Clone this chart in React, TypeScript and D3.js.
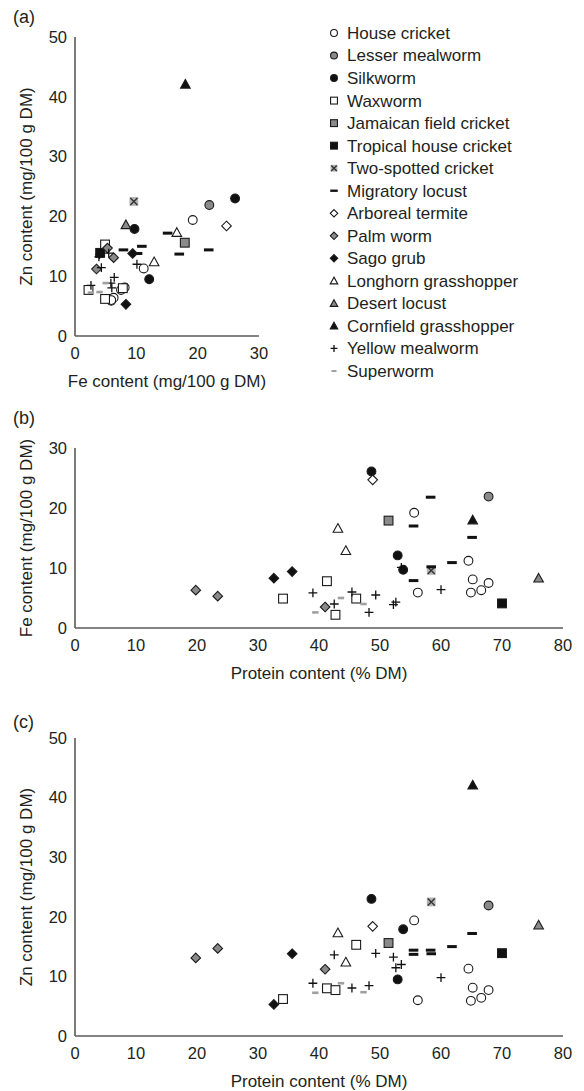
import * as d3 from 'd3'

// each row: [protein % DM, Fe mg/100g DM, Zn mg/100g DM]
const houseCricket = [[55.6, 19.2, 19.4], [64.5, 11.2, 11.3], [65.2, 8.1, 8.1], [67.8, 7.5, 7.7], [66.6, 6.3, 6.4], [64.9, 5.9, 5.9], [56.2, 5.9, 6.0]]
const lesserMealworm = [[67.8, 21.9, 21.9]]
const silkworm = [[48.6, 26.1, 23.0], [52.9, 12.1, 9.5], [53.8, 9.7, 17.9]]
const waxworm = [[34.1, 4.9, 6.2], [46.1, 4.9, 15.3], [41.3, 7.8, 8.0], [42.7, 2.2, 7.7]]
const jamaicanCricket = [[51.4, 17.9, 15.6]]
const tropicalCricket = [[70.0, 4.1, 13.9]]
const twoSpottedCricket = [[58.4, 9.6, 22.5]]
const migratoryLocust = [[65.1, 15.1, 17.2], [58.3, 21.8, 14.4], [55.5, 17.0, 13.7], [61.8, 10.9, 15.0], [55.5, 7.9, 14.4], [58.4, 10.2, 13.8]]
const arborealTermite = [[48.8, 24.7, 18.4]]
const palmWorm = [[19.8, 6.3, 13.1], [23.4, 5.3, 14.7], [41.0, 3.5, 11.2]]
const sagoGrub = [[35.6, 9.4, 13.8], [32.6, 8.3, 5.3]]
const longhornGrasshopper = [[43.1, 16.6, 17.3], [44.4, 12.9, 12.4]]
const desertLocust = [[76.0, 8.3, 18.6]]
const cornfieldGrasshopper = [[65.2, 18.0, 42.1]]
const yellowMealworm = [[39.0, 5.85, 8.85], [42.5, 4.0, 13.6], [45.4, 6.0, 8.05], [48.2, 2.6, 8.45], [49.3, 5.5, 13.85], [52.2, 3.9, 13.25], [52.6, 4.3, 11.45], [53.5, 10.1, 12.0], [60.0, 6.4, 9.8]]
const superworm = [[39.4, 2.6, 7.25], [43.6, 5.0, 8.85], [47.3, 4.0, 7.35]]

const GRAY = '#8a8a8a'

const species = [
  { name: 'House cricket', shape: 'circle', fill: '#fff', data: houseCricket },
  { name: 'Lesser mealworm', shape: 'circle', fill: GRAY, data: lesserMealworm },
  { name: 'Silkworm', shape: 'circle', fill: '#111', data: silkworm },
  { name: 'Waxworm', shape: 'square', fill: '#fff', data: waxworm },
  { name: 'Jamaican field cricket', shape: 'square', fill: GRAY, data: jamaicanCricket },
  { name: 'Tropical house cricket', shape: 'square', fill: '#111', data: tropicalCricket },
  { name: 'Two-spotted cricket', shape: 'xsquare', fill: '#b4b4b4', data: twoSpottedCricket },
  { name: 'Migratory locust', shape: 'dash', fill: '#111', data: migratoryLocust },
  { name: 'Arboreal termite', shape: 'diamond', fill: '#fff', data: arborealTermite },
  { name: 'Palm worm', shape: 'diamond', fill: GRAY, data: palmWorm },
  { name: 'Sago grub', shape: 'diamond', fill: '#111', data: sagoGrub },
  { name: 'Longhorn grasshopper', shape: 'triangle', fill: '#fff', data: longhornGrasshopper },
  { name: 'Desert locust', shape: 'triangle', fill: GRAY, data: desertLocust },
  { name: 'Cornfield grasshopper', shape: 'triangle', fill: '#111', data: cornfieldGrasshopper },
  { name: 'Yellow mealworm', shape: 'plus', fill: '#111', data: yellowMealworm },
  { name: 'Superworm', shape: 'dash', fill: '#a0a0a0', data: superworm },
]

const FONT = '"Liberation Sans", Arial, Helvetica, sans-serif'
const TEXT = '#231f20'
const AXIS = '#5a5a5a'

function Marker({ shape, fill, x, y, s = 1 }: { shape: string; fill: string; x: number; y: number; s?: number }) {
  const st = '#1a1a1a'
  if (shape === 'circle') return <circle cx={x} cy={y} r={4.4 * s} fill={fill} stroke={st} strokeWidth={1.1} />
  if (shape === 'square') {
    const h = 4.4 * s
    return <rect x={x - h} y={y - h} width={2 * h} height={2 * h} fill={fill} stroke={st} strokeWidth={1.1} />
  }
  if (shape === 'xsquare') {
    const h = 4.4 * s
    const k = h * 0.8
    return (
      <g>
        <rect x={x - h} y={y - h} width={2 * h} height={2 * h} fill={fill} />
        <path d={`M${x - k},${y - k}L${x + k},${y + k}M${x - k},${y + k}L${x + k},${y - k}`} stroke="#333" strokeWidth={1.4} />
      </g>
    )
  }
  if (shape === 'diamond') {
    const h = 4.8 * s
    return <path d={`M${x},${y - h}L${x + h},${y}L${x},${y + h}L${x - h},${y}Z`} fill={fill} stroke={st} strokeWidth={1.1} />
  }
  if (shape === 'triangle') {
    const h = 4.8 * s
    return <path d={`M${x},${y - h}L${x + h},${y + h * 0.8}L${x - h},${y + h * 0.8}Z`} fill={fill} stroke={st} strokeWidth={1.1} />
  }
  if (shape === 'plus') {
    const h = 4.4 * s
    return <path d={`M${x - h},${y}L${x + h},${y}M${x},${y - h}L${x},${y + h}`} stroke="#111" strokeWidth={1.3} />
  }
  // dash
  const w = fill === '#111' ? 4.8 * s : 3.2 * s
  const t = fill === '#111' ? 1.5 * s : 1.3 * s
  return <rect x={x - w} y={y - t} width={2 * w} height={2 * t} fill={fill} />
}

interface PanelProps {
  label: string
  labelY: number
  xTitle: string
  yTitle: string
  xDomain: [number, number]
  yDomain: [number, number]
  xRange: [number, number]
  yRange: [number, number]
  xi: number
  yi: number
  xTicks: number[]
  yTicks: number[]
}

function Panel(p: PanelProps) {
  const x = d3.scaleLinear().domain(p.xDomain).range(p.xRange)
  const y = d3.scaleLinear().domain(p.yDomain).range(p.yRange)
  const [x0, x1] = p.xRange
  const [y0, y1] = p.yRange
  return (
    <g>
      <text x={13} y={p.labelY} fontSize={18} fill={TEXT}>{p.label}</text>
      <line x1={x0} x2={x0} y1={y1} y2={y0} stroke={AXIS} strokeWidth={1.6} />
      <line x1={x0} x2={x1} y1={y0} y2={y0} stroke={AXIS} strokeWidth={1.6} />
      {p.yTicks.map(t => (
        <text key={'y' + t} x={x0 - 8} y={y(t)} dy="0.35em" textAnchor="end" fontSize={16.5} fill={TEXT}>{t}</text>
      ))}
      {p.xTicks.map(t => (
        <text key={'x' + t} x={x(t)} y={y0 + 17} dy="0.35em" textAnchor="middle" fontSize={16.5} fill={TEXT}>{t}</text>
      ))}
      <text x={(x0 + x1) / 2} y={y0 + 45} dy="0.35em" textAnchor="middle" fontSize={17} fill={TEXT}>{p.xTitle}</text>
      <text transform={`translate(26,${(y0 + y1) / 2}) rotate(-90)`} dy="0.35em" textAnchor="middle" fontSize={17} fill={TEXT}>{p.yTitle}</text>
      {species.map(sp => sp.data.map((d, i) => (
        <Marker key={sp.name + i} shape={sp.shape} fill={sp.fill} x={x(d[p.xi])} y={y(d[p.yi])} />
      )))}
    </g>
  )
}

export default function App() {
  const legendY = d3.scaleLinear().domain([0, species.length - 1]).range([33, 371])
  return (
    <svg width={584} height={1091} style={{ position: 'absolute', left: 0, top: 0, fontFamily: FONT, background: '#fff' }}>
      <Panel label="(a)" labelY={23} xTitle="Fe content (mg/100 g DM)" yTitle="Zn content (mg/100 g DM)"
        xDomain={[0, 30]} yDomain={[0, 50]} xRange={[75, 259]} yRange={[336, 37]} xi={1} yi={2}
        xTicks={[0, 10, 20, 30]} yTicks={[0, 10, 20, 30, 40, 50]} />
      <Panel label="(b)" labelY={424} xTitle="Protein content (% DM)" yTitle="Fe content (mg/100 g DM)"
        xDomain={[0, 80]} yDomain={[0, 30]} xRange={[75, 563]} yRange={[628, 448]} xi={0} yi={1}
        xTicks={[0, 10, 20, 30, 40, 50, 60, 70, 80]} yTicks={[0, 10, 20, 30]} />
      <Panel label="(c)" labelY={728} xTitle="Protein content (% DM)" yTitle="Zn content (mg/100 g DM)"
        xDomain={[0, 80]} yDomain={[0, 50]} xRange={[75, 563]} yRange={[1036, 738]} xi={0} yi={2}
        xTicks={[0, 10, 20, 30, 40, 50, 60, 70, 80]} yTicks={[0, 10, 20, 30, 40, 50]} />
      {species.map((sp, i) => (
        <g key={sp.name}>
          <Marker shape={sp.shape} fill={sp.fill} x={334} y={legendY(i)} s={0.78} />
          <text x={347} y={legendY(i)} dy="0.35em" fontSize={17} fill={TEXT}>{sp.name}</text>
        </g>
      ))}
    </svg>
  )
}
